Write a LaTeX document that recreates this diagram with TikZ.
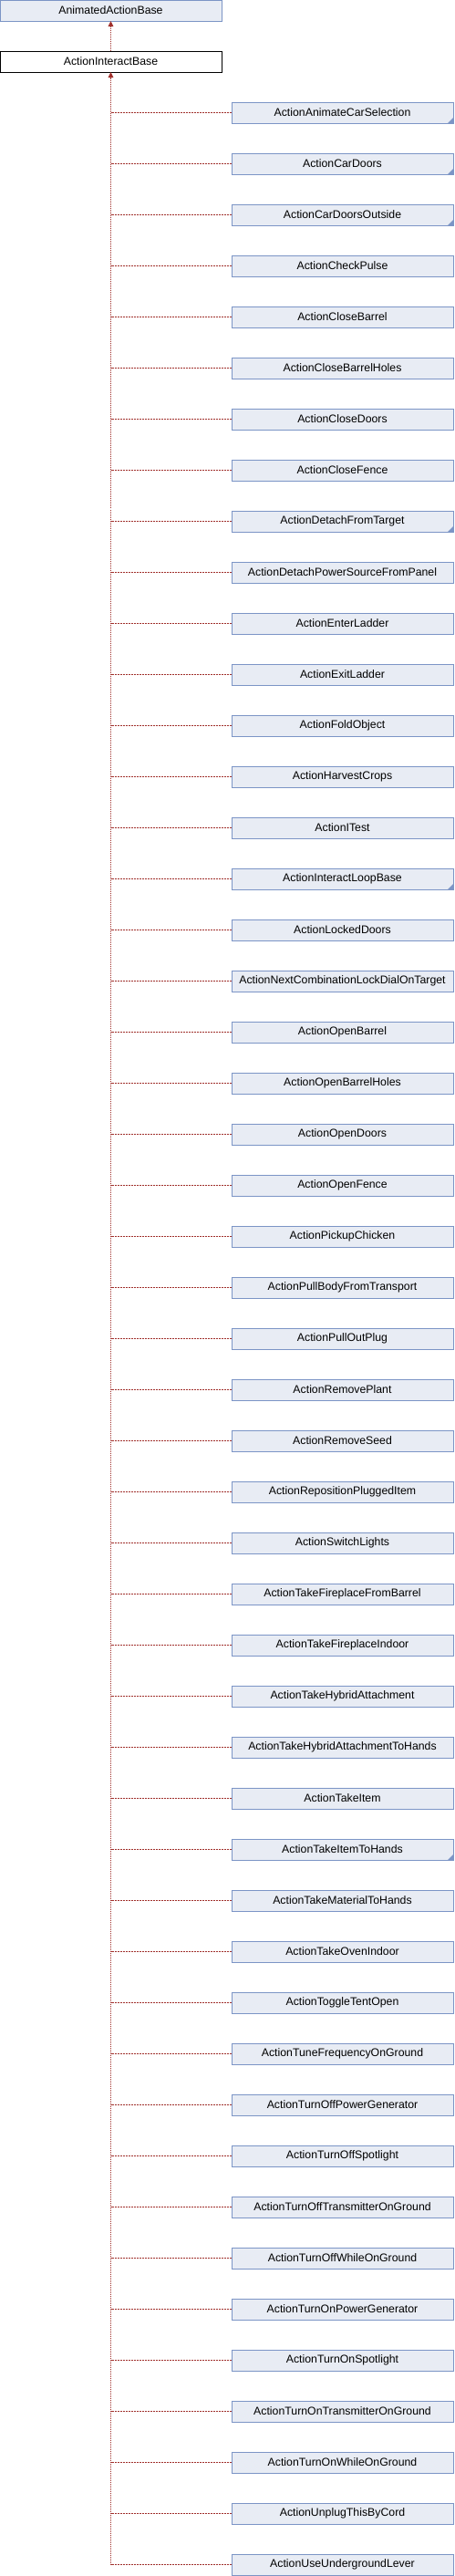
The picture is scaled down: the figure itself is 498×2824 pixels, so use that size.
\documentclass[tikz,border=0pt]{standalone}
\usepackage{fontspec}
\setmainfont{Liberation Sans}
\usetikzlibrary{arrows.meta}
\definecolor{boxfill}{HTML}{E8ECF4}
\definecolor{boxline}{HTML}{7C95C6}
\definecolor{edgered}{HTML}{A0302C}
\begin{document}
\begin{tikzpicture}

\newlength{\xdist}
\setlength{\xdist}{254pt}
\newlength{\ydist}
\setlength{\ydist}{56pt}

\useasboundingbox (0,0) rectangle (498pt,-2824pt);

% styles
\pgfkeys{/tikz/every path/.style={line width=1pt}}
\pgfkeys{/cls/.style={draw=boxline, fill=boxfill, rectangle, inner sep=0, outer sep=0, minimum width=243pt, minimum height=23pt, font=\fontsize{12.3}{14}\selectfont}} % base style for classes
\pgfkeys{/this/.style={/cls, draw=black, fill=white}} % documented class
\pgfkeys{/inh/.style={draw=edgered, dash pattern=on 2pt off 1pt}} % inheritance edge
\pgfkeys{/trunk/.style={draw=edgered, dash pattern=on 1pt off 1pt, -{Triangle[length=6pt, width=5.5pt]}}} % edge to base
\pgfkeys{/corner/.style={fill=boxline, draw=none}} % more children not shown

% base classes
\node[/cls] (anim) at (121.5pt,-11.5pt) {AnimatedActionBase};
\node[/this] (ibase) at (121.5pt,-67.5pt) {ActionInteractBase};
\draw[/trunk] (ibase) -- (anim);

% derived classes
\foreach \j/\name in {1/ActionAnimateCarSelection, 2/ActionCarDoors, 3/ActionCarDoorsOutside,
  4/ActionCheckPulse, 5/ActionCloseBarrel, 6/ActionCloseBarrelHoles, 7/ActionCloseDoors,
  8/ActionCloseFence, 9/ActionDetachFromTarget, 10/ActionDetachPowerSourceFromPanel,
  11/ActionEnterLadder, 12/ActionExitLadder, 13/ActionFoldObject, 14/ActionHarvestCrops,
  15/ActionITest, 16/ActionInteractLoopBase, 17/ActionLockedDoors,
  18/ActionNextCombinationLockDialOnTarget, 19/ActionOpenBarrel, 20/ActionOpenBarrelHoles,
  21/ActionOpenDoors, 22/ActionOpenFence, 23/ActionPickupChicken, 24/ActionPullBodyFromTransport,
  25/ActionPullOutPlug, 26/ActionRemovePlant, 27/ActionRemoveSeed, 28/ActionRepositionPluggedItem,
  29/ActionSwitchLights, 30/ActionTakeFireplaceFromBarrel, 31/ActionTakeFireplaceIndoor,
  32/ActionTakeHybridAttachment, 33/ActionTakeHybridAttachmentToHands, 34/ActionTakeItem,
  35/ActionTakeItemToHands, 36/ActionTakeMaterialToHands, 37/ActionTakeOvenIndoor,
  38/ActionToggleTentOpen, 39/ActionTuneFrequencyOnGround, 40/ActionTurnOffPowerGenerator,
  41/ActionTurnOffSpotlight, 42/ActionTurnOffTransmitterOnGround, 43/ActionTurnOffWhileOnGround,
  44/ActionTurnOnPowerGenerator, 45/ActionTurnOnSpotlight, 46/ActionTurnOnTransmitterOnGround,
  47/ActionTurnOnWhileOnGround, 48/ActionUnplugThisByCord, 49/ActionUseUndergroundLever} {
\node[/cls, anchor=west] (C\j) at ([yshift=-\j\ydist] \xdist,-67.5pt) {\name};
\draw[/inh] (C\j.west) -- (ibase.south |- C\j.west); % edge to the trunk
}

% trunk up to ActionInteractBase
\draw[/trunk] (ibase.south |- C49.west) -- (ibase.south);

% classes with hidden children
\foreach \j in {1,2,3,9,16,35} {
\fill[/corner] (C\j.south east) -- ++(-6pt,0) -- ++(6pt,6pt) -- cycle;
}

\end{tikzpicture}
\end{document}
